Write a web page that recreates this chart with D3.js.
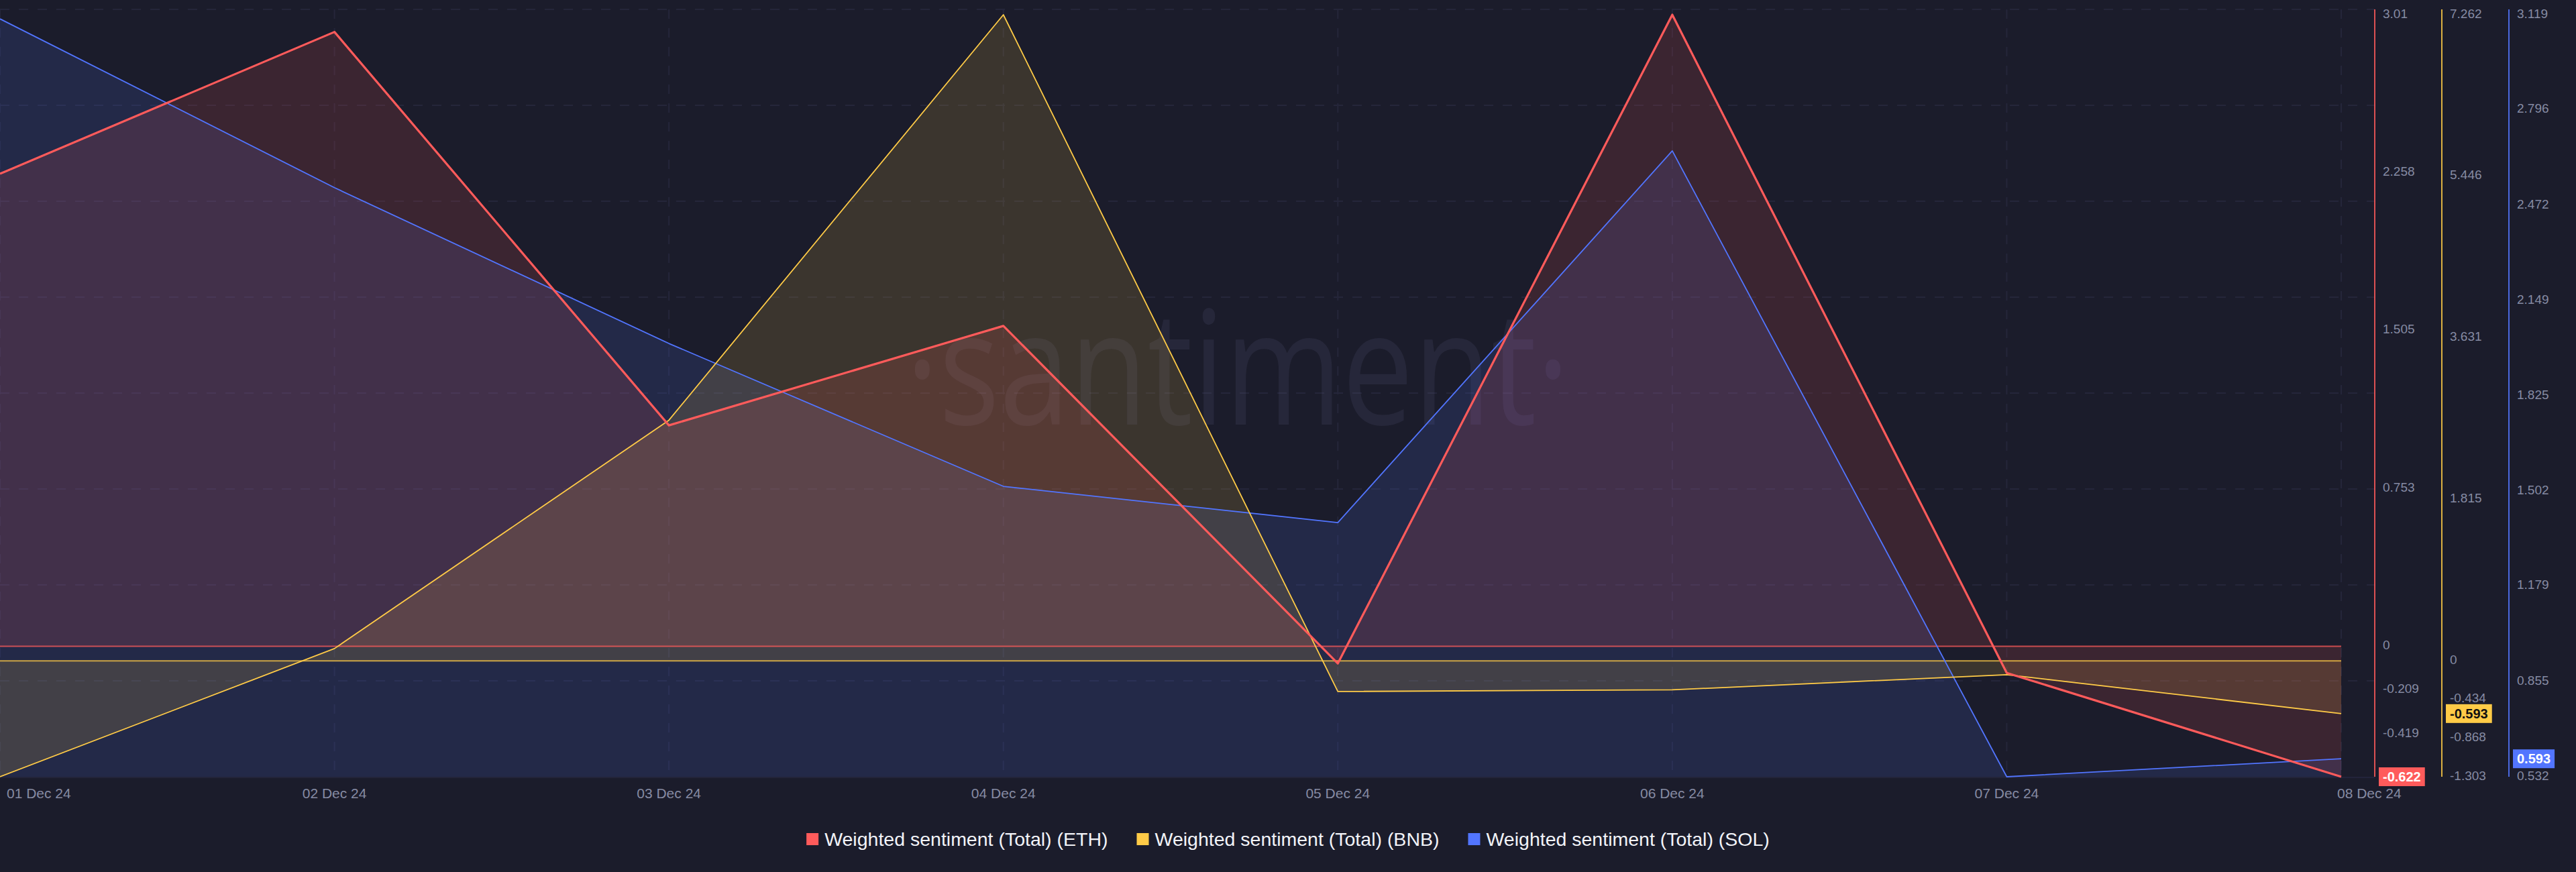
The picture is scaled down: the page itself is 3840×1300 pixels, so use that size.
<!DOCTYPE html>
<html>
<head>
<meta charset="utf-8">
<script src="https://cdn.jsdelivr.net/npm/d3@7/dist/d3.min.js"></script>
<style>
    body { margin: 0; background: #1b1c2b; }
    svg { display: block; }
</style>
</head>
<body>
<svg id="SVG_CONTAINER" width="3840" height="1300"></svg>
<script>
// x categories
const days = ["01 Dec 24", "02 Dec 24", "03 Dec 24", "04 Dec 24", "05 Dec 24", "06 Dec 24", "07 Dec 24", "08 Dec 24"];

// weighted sentiment per coin
const ethValues = [2.252, 2.928, 1.053, 1.527, -0.082, 3.01, -0.127, -0.622];
const bnbValues = [-1.303, 0.138, 2.705, 7.262, -0.345, -0.326, -0.156, -0.593];
const solValues = [3.105, 2.532, 2.003, 1.518, 1.395, 2.657, 0.532, 0.593];

// right axis tick labels
const ethTicks = [3.01, 2.258, 1.505, 0.753, 0, -0.209, -0.419];
const bnbTicks = [7.262, 5.446, 3.631, 1.815, 0, -0.434, -0.868, -1.303];
const solTicks = [3.119, 2.796, 2.472, 2.149, 1.825, 1.502, 1.179, 0.855, 0.532];

const seriesNames = ["Weighted sentiment (Total) (ETH)", "Weighted sentiment (Total) (BNB)", "Weighted sentiment (Total) (SOL)"];
const seriesColours = ["#ff5b5b", "#ffcb47", "#5275ff"];

const width = 3840,
      height = 1300;

const PLOT = {
    "LEFT": 0,
    "DATA_RIGHT": 3490,
    "GRID_RIGHT": 3540,
    "TOP": 14,
    "VALUE_TOP": 22,
    "BOTTOM": 1158,
};

const svg = d3.select("#SVG_CONTAINER");
const FONT = "'Liberation Sans', Arial, sans-serif";

svg.append("rect")
    .attr("width", width)
    .attr("height", height)
    .attr("fill", "#1b1c2b");

//** SCALES *****************************************
const xScale = d3.scalePoint()
    .domain(days)
    .range([PLOT.LEFT, PLOT.DATA_RIGHT]);

const ethScale = d3.scaleLinear()
    .domain([d3.min(ethValues), d3.max(ethValues)])
    .range([PLOT.BOTTOM, PLOT.VALUE_TOP]);

const bnbScale = d3.scaleLinear()
    .domain([d3.min(bnbValues), d3.max(bnbValues)])
    .range([PLOT.BOTTOM, PLOT.VALUE_TOP]);

const solScale = d3.scaleLinear()
    .domain([0.532, 3.119])
    .range([PLOT.BOTTOM, PLOT.VALUE_TOP]);

//** GRID *****************************************
const gridScale = d3.scaleLinear().domain([0, 8]).range([PLOT.TOP, PLOT.BOTTOM]);
const grid = svg.append("g").attr("class", "grid");

grid.selectAll(".hgrid")
    .data(d3.range(0, 8))
    .enter()
    .append("line")
    .attr("x1", PLOT.LEFT)
    .attr("x2", PLOT.GRID_RIGHT)
    .attr("y1", d => gridScale(d))
    .attr("y2", d => gridScale(d))
    .style("stroke", "#25263a")
    .style("stroke-width", 2)
    .style("stroke-dasharray", "14, 14");

grid.selectAll(".vgrid")
    .data(days)
    .enter()
    .append("line")
    .attr("x1", d => xScale(d))
    .attr("x2", d => xScale(d))
    .attr("y1", PLOT.TOP)
    .attr("y2", PLOT.BOTTOM)
    .style("stroke", "#25263a")
    .style("stroke-width", 2)
    .style("stroke-dasharray", "14, 14");

svg.append("line")
    .attr("x1", PLOT.LEFT)
    .attr("x2", PLOT.GRID_RIGHT)
    .attr("y1", PLOT.BOTTOM + 1)
    .attr("y2", PLOT.BOTTOM + 1)
    .style("stroke", "#23243a")
    .style("stroke-width", 2);

//** WATERMARK *****************************************
svg.append("text")
    .attr("x", 1845)
    .attr("y", 633)
    .attr("text-anchor", "middle")
    .attr("textLength", 990)
    .attr("lengthAdjust", "spacingAndGlyphs")
    .style("font-family", "'Open Sans', sans-serif")
    .style("font-weight", 400)
    .style("font-size", "236px")
    .style("fill", "rgba(150,150,215,0.09)")
    .text("\u00b7santiment\u00b7");

//** AREAS *****************************************
const series = [
    { values: ethValues, scale: ethScale, base: () => ethScale(0), width: 3.2 },
    { values: bnbValues, scale: bnbScale, base: () => bnbScale(0), width: 1.8 },
    { values: solValues, scale: solScale, base: () => PLOT.BOTTOM, width: 1.8 },
];

const drawOrder = [2, 1, 0];

drawOrder.forEach(function (s) {
    let ser = series[s];
    let area = d3.area()
        .x((d, i) => xScale(days[i]))
        .y0(ser.base)
        .y1(d => ser.scale(d));
    svg.append("path")
        .datum(ser.values)
        .attr("d", area)
        .style("fill", seriesColours[s])
        .style("fill-opacity", 0.14);
});

// zero baselines of ETH and BNB
[0, 1].forEach(function (s) {
    svg.append("line")
        .attr("x1", PLOT.LEFT)
        .attr("x2", PLOT.DATA_RIGHT)
        .attr("y1", series[s].scale(0))
        .attr("y2", series[s].scale(0))
        .style("stroke", seriesColours[s])
        .style("stroke-opacity", 0.75)
        .style("stroke-width", 2);
});

//** LINES *****************************************
drawOrder.forEach(function (s) {
    let ser = series[s];
    let line = d3.line()
        .x((d, i) => xScale(days[i]))
        .y(d => ser.scale(d));
    svg.append("path")
        .datum(ser.values)
        .attr("d", line)
        .style("fill", "none")
        .style("stroke", seriesColours[s])
        .style("stroke-width", ser.width)
        .style("stroke-linejoin", "round");
});

//** X AXIS LABELS *****************************************
svg.append("g")
    .selectAll("text")
    .data(days)
    .enter()
    .append("text")
    .attr("x", (d, i) => i === 0 ? xScale(d) + 10 : (i === days.length - 1 ? xScale(d) - 6 : xScale(d)))
    .attr("y", 1190)
    .attr("text-anchor", (d, i) => (i === 0 || i === days.length - 1) ? "start" : "middle")
    .style("font-family", FONT)
    .style("font-size", "21px")
    .style("fill", "#868ba3")
    .text(d => d);

//** RIGHT AXES *****************************************
const axes = [
    { x: 3540, scale: ethScale, ticks: ethTicks, last: ethValues[ethValues.length - 1], textColour: "#ffffff" },
    { x: 3640, scale: bnbScale, ticks: bnbTicks, last: bnbValues[bnbValues.length - 1], textColour: "#111111" },
    { x: 3740, scale: solScale, ticks: solTicks, last: solValues[solValues.length - 1], textColour: "#ffffff" },
];

axes.forEach(function (a, s) {
    let axis = d3.axisRight(a.scale)
        .tickValues(a.ticks)
        .tickFormat(d => String(d))
        .tickSize(0)
        .tickPadding(12);

    let g = svg.append("g")
        .attr("transform", "translate(" + a.x + ",-2)")
        .call(axis);
    g.select(".domain").remove();
    g.selectAll("text")
        .style("font-family", FONT)
        .style("font-size", "19px")
        .style("fill", "#868ba3");

    svg.append("line")
        .attr("x1", a.x)
        .attr("x2", a.x)
        .attr("y1", PLOT.TOP)
        .attr("y2", PLOT.BOTTOM)
        .style("stroke", seriesColours[s])
        .style("stroke-opacity", 0.85)
        .style("stroke-width", 2);

    // current value badge
    let label = String(a.last);
    let badge = svg.append("g")
        .attr("transform", "translate(" + (a.x + 6) + "," + a.scale(a.last) + ")");
    let txt = badge.append("text")
        .attr("x", 6)
        .attr("y", 7)
        .style("font-family", FONT)
        .style("font-size", "20px")
        .style("font-weight", "bold")
        .style("fill", a.textColour)
        .text(label);
    let w = txt.node().getComputedTextLength() + 12;
    badge.insert("rect", "text")
        .attr("x", 0)
        .attr("y", -14)
        .attr("width", w)
        .attr("height", 28)
        .style("fill", seriesColours[s]);
});

//** LEGEND *****************************************
const legend = svg.append("g");
let legendX = 0;
seriesNames.forEach(function (name, s) {
    let item = legend.append("g").attr("transform", "translate(" + legendX + ",0)");
    item.append("rect")
        .attr("x", 0)
        .attr("y", 1242)
        .attr("width", 18)
        .attr("height", 18)
        .style("fill", seriesColours[s]);
    let t = item.append("text")
        .attr("x", 27)
        .attr("y", 1261)
        .style("font-family", FONT)
        .style("font-size", "28.5px")
        .style("fill", "#f2f3f8")
        .text(name);
    legendX += 27 + t.node().getComputedTextLength() + 43;
});
legendX -= 43;
legend.attr("transform", "translate(" + (1920 - legendX / 2) + ",0)");
</script>
</body>
</html>
